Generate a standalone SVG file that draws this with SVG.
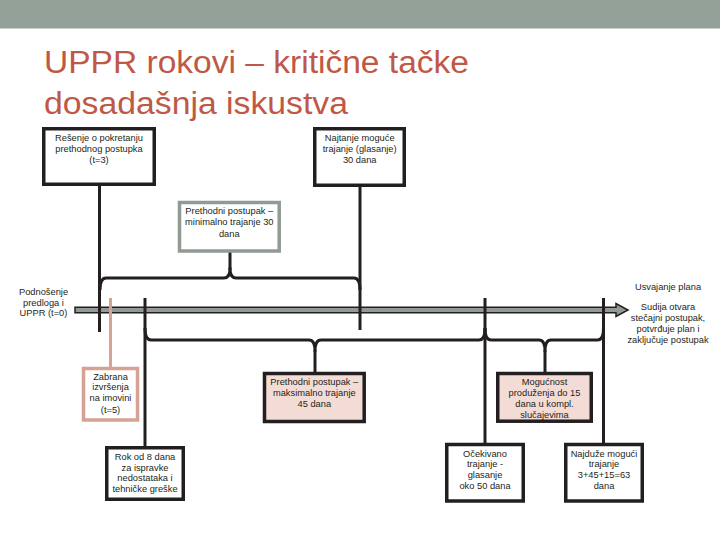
<svg xmlns="http://www.w3.org/2000/svg" width="720" height="540" viewBox="0 0 720 540">
<defs>
<style>
.t{font-family:"Liberation Sans",Arial,sans-serif;font-size:9.3px;fill:#231f20;text-anchor:middle}
.title{font-family:"Liberation Sans",Arial,sans-serif;font-size:31px;fill:#bf5846}
.box{fill:#ffffff;stroke:#231f20;stroke-width:3.5}
.pink{fill:#f4dcd6;stroke:#231f20;stroke-width:3.5}
.gbox{fill:#ffffff;stroke:#8f9b93;stroke-width:3.5}
.pbox{fill:#ffffff;stroke:#d6a295;stroke-width:3.5}
.ln{fill:none;stroke:#231f20;stroke-width:3;stroke-linejoin:round}
.pln{fill:none;stroke:#d6a295;stroke-width:3}
</style>
</defs>
<rect x="0" y="0" width="720" height="540" fill="#ffffff"/>
<rect x="0" y="0" width="720" height="28.5" fill="#93a199"/>
<g id="title">
<text class="title" x="44" y="73" textLength="425" lengthAdjust="spacingAndGlyphs">UPPR rokovi – kritične tačke</text>
<text class="title" x="44" y="114" textLength="304" lengthAdjust="spacingAndGlyphs">dosadašnja iskustva</text>
</g>
<g id="timeline">
<path d="M75,307.3 L616,307.3 L616,303.5 L628,310 L616,316.5 L616,312.7 L75,312.7 Z" fill="#8f9b93" stroke="#231f20" stroke-width="1.5"/>
</g>
<g id="connectors">
<line class="ln" x1="99.5" y1="186" x2="99.5" y2="332"/>
<line class="ln" x1="360" y1="187" x2="360" y2="330"/>
<line class="ln" x1="230" y1="252" x2="230" y2="270"/>
<path class="ln" d="M100,290 Q100,278 106,278 L224,278 Q230,278 230,268 Q230,278 236,278 L354,278 Q360,278 360,290"/>
<line class="ln" x1="145" y1="298" x2="145" y2="446"/>
<line class="ln" x1="485" y1="298" x2="485" y2="443"/>
<line class="ln" x1="603.5" y1="298" x2="603.5" y2="443"/>
<path class="ln" d="M145,328 Q145,340 151,340 L309,340 Q315,340 315,351 Q315,340 321,340 L479,340 Q485,340 485,328"/>
<path class="ln" d="M485,328 Q485,340 491,340 L539,340 Q545,340 545,351 Q545,340 551,340 L597.5,340 Q603.5,340 603.5,328"/>
<line class="ln" x1="315" y1="350" x2="315" y2="372"/>
<line class="ln" x1="545" y1="350" x2="545" y2="372"/>
<line class="pln" x1="110.5" y1="298" x2="110.5" y2="367"/>
</g>
<g id="n-resenje">
<rect class="box" x="43.75" y="128.75" width="110.5" height="55.5"/>
<text class="t" x="99" y="141">Rešenje o pokretanju</text>
<text class="t" x="99" y="152">prethodnog postupka</text>
<text class="t" x="99" y="163">(t=3)</text>
</g>
<g id="n-najranije">
<rect class="box" x="314.75" y="128.75" width="89.5" height="56.5"/>
<text class="t" x="359.7" y="141">Najtanje moguće</text>
<text class="t" x="359.7" y="152">trajanje (glasanje)</text>
<text class="t" x="359.7" y="163">30 dana</text>
</g>
<g id="n-prethodni-min">
<rect class="gbox" x="179.5" y="202.5" width="99.7" height="48.5"/>
<text class="t" x="229.3" y="214">Prethodni postupak –</text>
<text class="t" x="229.3" y="225">minimalno trajanje 30</text>
<text class="t" x="229.3" y="236.5">dana</text>
</g>
<g id="n-podnosenje">
<text class="t" x="43.5" y="295">Podnošenje</text>
<text class="t" x="43.5" y="305.5">predloga i</text>
<text class="t" x="43.5" y="316">UPPR (t=0)</text>
</g>
<g id="n-usvajanje">
<text class="t" x="668" y="289.5">Usvajanje plana</text>
<text class="t" x="668" y="310">Sudija otvara</text>
<text class="t" x="668" y="321">stečajni postupak,</text>
<text class="t" x="668" y="332">potvrđuje plan i</text>
<text class="t" x="668" y="343">zaključuje postupak</text>
</g>
<g id="n-zabrana">
<rect class="pbox" x="83.5" y="368.5" width="54" height="51.5"/>
<text class="t" x="110.5" y="379.5">Zabrana</text>
<text class="t" x="110.5" y="390.2">izvršenja</text>
<text class="t" x="110.5" y="400.8">na imovini</text>
<text class="t" x="110.5" y="412.5">(t=5)</text>
</g>
<g id="n-rok">
<rect class="box" x="106.75" y="447.75" width="76.5" height="51.5"/>
<text class="t" x="145" y="460">Rok od 8 dana</text>
<text class="t" x="145" y="470.7">za ispravke</text>
<text class="t" x="145" y="481">nedostataka i</text>
<text class="t" x="145" y="491.7">tehničke greške</text>
</g>
<g id="n-prethodni-max">
<rect class="pink" x="264.5" y="373.5" width="99.7" height="48"/>
<text class="t" x="314.3" y="385">Prethodni postupak –</text>
<text class="t" x="314.3" y="396">maksimalno trajanje</text>
<text class="t" x="314.3" y="407">45 dana</text>
</g>
<g id="n-mogucnost">
<rect class="pink" x="497.75" y="373.5" width="93.5" height="47.7"/>
<text class="t" x="544.5" y="385">Mogućnost</text>
<text class="t" x="544.5" y="396">produženja do 15</text>
<text class="t" x="544.5" y="407">dana u kompl.</text>
<text class="t" x="544.5" y="418">slučajevima</text>
</g>
<g id="n-ocekivano">
<rect class="box" x="446.75" y="444.5" width="76.5" height="56.5"/>
<text class="t" x="485" y="456.7">Očekivano</text>
<text class="t" x="485" y="467.3">trajanje -</text>
<text class="t" x="485" y="478.3">glasanje</text>
<text class="t" x="485" y="489">oko 50 dana</text>
</g>
<g id="n-najduze">
<rect class="box" x="565.75" y="444.5" width="76.5" height="56.5"/>
<text class="t" x="604" y="456.7">Najduže mogući</text>
<text class="t" x="604" y="467.3">trajanje</text>
<text class="t" x="604" y="478.3">3+45+15=63</text>
<text class="t" x="604" y="489">dana</text>
</g>
</svg>
